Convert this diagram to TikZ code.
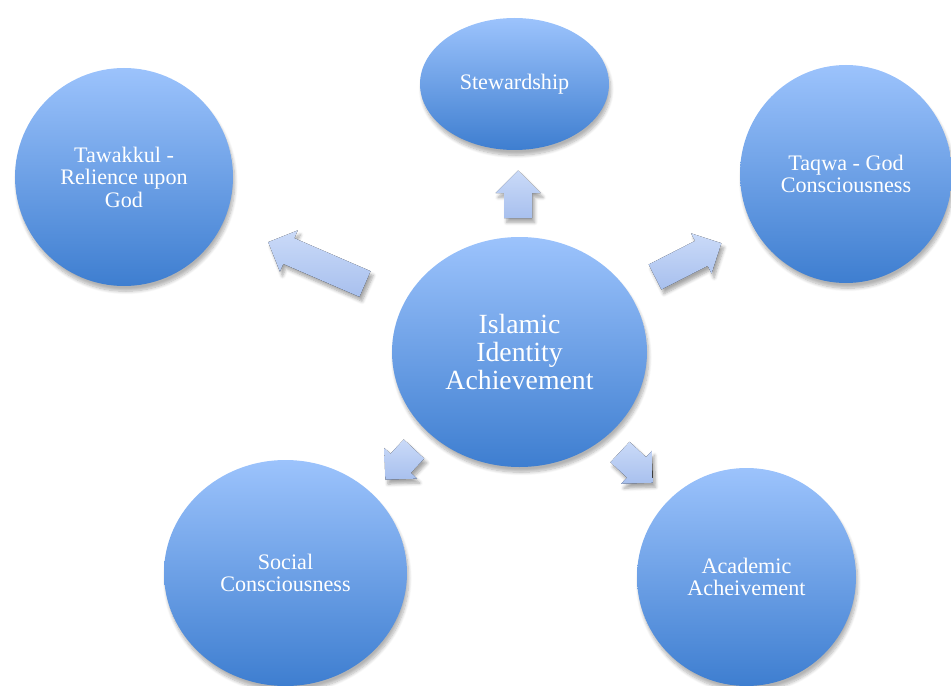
\documentclass[tikz,border=0pt]{standalone}
\usepackage{fontspec}
\setmainfont{Liberation Serif}
\usetikzlibrary{calc,shapes.geometric,shadows.blur}
\definecolor{bubbletop}{RGB}{156,195,252}
\definecolor{bubblebot}{RGB}{62,126,208}
\definecolor{arrowtop}{RGB}{202,218,248}
\definecolor{arrowbot}{RGB}{168,192,238}
\tikzset{
  bubble/.style={ellipse, inner sep=0pt, align=center, text=white,
    top color=bubbletop, bottom color=bubblebot,
    blur shadow={shadow xshift=1pt, shadow yshift=-3pt, shadow blur steps=8, shadow opacity=30},
    font=\fontsize{12.6}{12.8}\selectfont},
  arrowfill/.style={top color=arrowtop, bottom color=arrowbot,
    blur shadow={shadow xshift=1.5pt, shadow yshift=-2.5pt, shadow blur steps=6, shadow opacity=35}}
}
% block arrow from a tail point: (tail)(angle)(shaft length)
\def\blockarrow(#1)(#2)(#3){\fill[arrowfill]
  ($(#1)+(#2+90:0.28)$) -- ($(#1)+(#2+90:0.28)+(#2:#3)$) -- ($(#1)+(#2+90:0.45)+(#2:#3)$) --
  ($(#1)+(#2:#3)+(#2:0.45)$) --
  ($(#1)+(#2-90:0.45)+(#2:#3)$) -- ($(#1)+(#2-90:0.28)+(#2:#3)$) -- ($(#1)+(#2-90:0.28)$) -- cycle;}

\begin{document}
\begin{tikzpicture}
  %%%%% START %%%%%
  \useasboundingbox (0,0) rectangle (19.02,13.7);

  \node[bubble, minimum width=5.1cm, minimum height=4.6cm,
    font=\fontsize{15.8}{16.1}\selectfont] (hub) at (10.39, 6.66) {Islamic\\Identity\\Achievement};

  \node[bubble, minimum width=3.78cm, minimum height=2.64cm] (steward) at (10.29, 12.02) {Stewardship};
  \node[bubble, minimum width=4.36cm, minimum height=4.36cm] (tawakkul) at (2.48, 10.16) {Tawakkul -\\Relience upon\\God};
  \node[bubble, minimum width=4.24cm, minimum height=4.36cm] (taqwa) at (16.92, 10.22) {Taqwa - God\\Consciousness};
  \node[bubble, minimum width=4.86cm, minimum height=4.52cm] (social) at (5.71, 2.24) {Social\\Consciousness};
  \node[bubble, minimum width=4.38cm, minimum height=4.36cm] (academic) at (14.93, 2.16) {Academic\\Acheivement};

  % arrows out of the hub
  \blockarrow(10.36, 9.34)(90)(0.5)
  \blockarrow(7.30, 8.02)(156.6)(1.66)
  \blockarrow(13.10, 8.16)(27)(1.04)
  \blockarrow(8.28, 4.72)(227)(0.39)
  \blockarrow(12.40, 4.66)(-43)(0.45)

  %%%%% END %%%%%
\end{tikzpicture}
\end{document}
